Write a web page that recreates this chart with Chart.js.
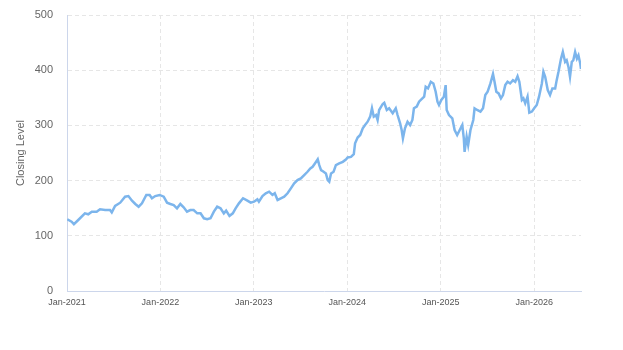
<!DOCTYPE html>
<html lang="en">
<head>
  <meta charset="UTF-8" />
  <title>Closing Level</title>
  <script src="https://cdn.jsdelivr.net/npm/chart.js"></script>
  <style>
    html, body { margin: 0; padding: 0; background: #fff; }
    #wrap { width: 623px; height: 350px; }
  </style>
</head>
<body>
  <div id="wrap"><canvas id="closingChart"></canvas></div>

  <script>
    // Closing level readings
    const dates2021 = ['2021-01-02','2021-01-19','2021-01-28','2021-02-14','2021-03-12','2021-03-25','2021-04-08','2021-04-27','2021-05-10','2021-05-30','2021-06-18','2021-06-25','2021-07-08','2021-07-28','2021-08-16','2021-08-29','2021-09-12','2021-09-25','2021-10-08','2021-10-21','2021-11-07','2021-11-20','2021-11-29','2021-12-12','2021-12-29'];
    const values2021 = [130,125.6,121,128.6,140.7,139,143.7,143.7,148,146.7,146.7,142.5,154,160,170.8,172,163.6,157.6,152.7,158.8,174,174,168,172,174];

    const dates2022 = ['2022-01-14','2022-01-27','2022-02-09','2022-02-22','2022-03-07','2022-03-20','2022-04-02','2022-04-15','2022-04-28','2022-05-11','2022-05-25','2022-06-07','2022-06-20','2022-07-03','2022-07-16','2022-07-29','2022-08-11','2022-08-24','2022-09-06','2022-09-15','2022-09-28','2022-10-11','2022-10-22','2022-11-04','2022-11-20','2022-12-07','2022-12-20'];
    const values2022 = [170.8,160,157.6,155.8,149.8,157.6,151.6,143.7,146.7,146.7,140.7,140.7,131.7,130,131.7,143.7,152.7,149.8,140.7,145.5,135.9,140.7,149.8,158.8,168,163.6,160];

    const dates2023 = ['2023-01-02','2023-01-15','2023-01-21','2023-02-04','2023-02-17','2023-03-02','2023-03-15','2023-03-24','2023-04-04','2023-04-17','2023-04-30','2023-05-13','2023-05-26','2023-06-08','2023-06-21','2023-07-04','2023-07-17','2023-07-30','2023-08-10','2023-08-19','2023-08-28','2023-09-08','2023-09-14','2023-09-21','2023-10-01','2023-10-10','2023-10-17','2023-10-23','2023-10-30','2023-11-09','2023-11-18','2023-12-01','2023-12-15','2023-12-28'];
    const values2023 = [161.8,166,161.8,172,177,179.9,174,177,164.9,168,170.8,177,186,195,201,204,210,216,222,225,231,238.6,228,219,216,213,201,198,213,216,228,231,234,238.6];

    const dates2024 = ['2024-01-03','2024-01-16','2024-01-27','2024-02-01','2024-02-11','2024-02-21','2024-03-02','2024-03-11','2024-03-21','2024-03-31','2024-04-07','2024-04-14','2024-04-23','2024-04-29','2024-05-05','2024-05-19','2024-05-25','2024-06-04','2024-06-13','2024-06-27','2024-07-09','2024-07-16','2024-07-26','2024-08-01','2024-08-06','2024-08-14','2024-08-24','2024-09-03','2024-09-12','2024-09-18','2024-09-29','2024-10-08','2024-10-17','2024-10-28','2024-11-03','2024-11-12','2024-11-23','2024-12-03','2024-12-12','2024-12-19','2024-12-25'];
    const values2024 = [242,243,248,267.6,278,282.6,294.7,300.7,306.7,315.8,331,315.8,318.8,309.8,327.9,338.8,341,328,331,322,331,318.8,303.8,291.7,276.6,294.7,306.7,300.7,309.8,331,334,343,347,352,370,367,379,376,361,343,337];

    const dates2025 = ['2025-01-03','2025-01-13','2025-01-20','2025-01-24','2025-02-02','2025-02-15','2025-02-24','2025-03-06','2025-03-16','2025-03-26','2025-04-01','2025-04-04','2025-04-12','2025-04-18','2025-04-27','2025-05-08','2025-05-13','2025-05-23','2025-06-05','2025-06-15','2025-06-24','2025-07-03','2025-07-14','2025-07-24','2025-07-30','2025-08-06','2025-08-15','2025-08-24','2025-09-01','2025-09-10','2025-09-19','2025-09-29','2025-10-10','2025-10-19','2025-10-28','2025-11-04','2025-11-14','2025-11-20','2025-11-27','2025-12-06','2025-12-13','2025-12-23'];
    const values2025 = [346,352,373,328,318.8,312.8,291.7,282.6,291.7,300.7,276.6,252,279.6,264.5,291.7,309.8,331,328,325,331,355,361,376,393,379,361,358,349,355,373,379,376,382,379,389,379,346,349,340,352,323,325];

    const dates2026 = ['2026-01-01','2026-01-11','2026-01-20','2026-01-31','2026-02-06','2026-02-13','2026-02-23','2026-03-04','2026-03-13','2026-03-24','2026-03-30','2026-04-06','2026-04-16','2026-04-23','2026-05-02','2026-05-08','2026-05-15','2026-05-21','2026-05-28','2026-06-03','2026-06-10','2026-06-17','2026-06-23','2026-06-30','2026-07-03'];
    const values2026 = [331,337,352,376,397,388,364,355,367,367,382,397,421,433,415,418,406,388,415,418,433,421,427,412,402];

    const tickYears = [2021, 2022, 2023, 2024, 2025, 2026];
    const yTicks = [0, 100, 200, 300, 400, 500];

    const dates = [].concat(dates2021, dates2022, dates2023, dates2024, dates2025, dates2026);
    const values = [].concat(values2021, values2022, values2023, values2024, values2025, values2026);
    const points = dates.map((d, i) => ({ x: Date.parse(d), y: values[i] }));

    const fontFamily = '"Liberation Sans", Arial, Helvetica, sans-serif';

    const ctx = document.getElementById('closingChart').getContext('2d');
    new Chart(ctx, {
      type: 'line',
      data: {
        datasets: [{
          label: 'Closing Level',
          data: points,
          borderColor: '#7cb5ec',
          borderWidth: 2.5,
          pointRadius: 0,
          tension: 0,
          fill: false
        }]
      },
      options: {
        responsive: true,
        maintainAspectRatio: false,
        animation: false,
        layout: { padding: { top: 15, right: 42, bottom: 0, left: 0 } },
        plugins: {
          legend: { display: false },
          tooltip: { enabled: false }
        },
        scales: {
          x: {
            type: 'linear',
            min: Date.UTC(tickYears[0], 0, 1),
            max: points[points.length - 1].x,
            afterBuildTicks: scale => {
              scale.ticks = tickYears.map(y => ({ value: Date.UTC(y, 0, 1) }));
            },
            afterFit: scale => { scale.height = 59; },
            grid: { color: '#e6e6e6', drawTicks: false },
            border: { color: '#ccd6eb', dash: [4, 3] },
            ticks: {
              autoSkip: false,
              maxRotation: 0,
              padding: 6,
              color: '#555',
              font: { family: fontFamily, size: 9 },
              callback: value => 'Jan-' + new Date(value).getUTCFullYear()
            }
          },
          y: {
            min: yTicks[0],
            max: yTicks[yTicks.length - 1],
            afterBuildTicks: scale => {
              scale.ticks = yTicks.map(v => ({ value: v }));
            },
            afterFit: scale => {
              scale.width = 67;
              scale.paddingTop = 0;
              scale.paddingBottom = 0;
            },
            grid: { color: '#e6e6e6', drawTicks: false },
            border: { color: '#ccd6eb', dash: [4, 3] },
            ticks: {
              padding: 14,
              color: '#666',
              font: { family: fontFamily, size: 11 }
            },
            title: {
              display: true,
              text: 'Closing Level',
              color: '#666',
              padding: { top: 14, bottom: 0 },
              font: { family: fontFamily, size: 11 }
            }
          }
        }
      }
    });
  </script>
</body>
</html>
